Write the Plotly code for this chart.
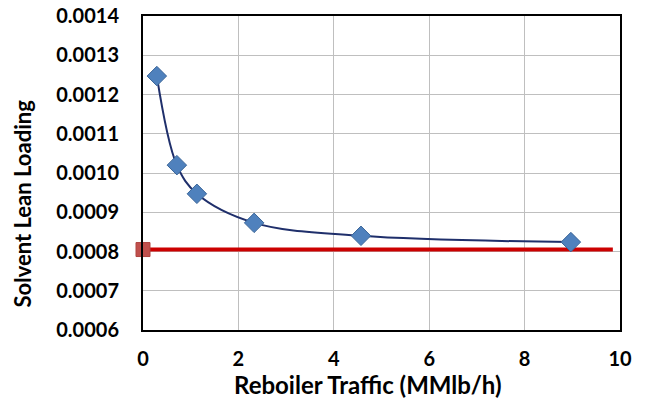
import plotly.graph_objects as go

traffic = [0.29, 0.71, 1.13, 2.33, 4.57, 8.97]
lean_loading = [0.001247, 0.00102, 0.000947, 0.000873, 0.00084, 0.000824]
target_x = [0, 9.85]
target_y = [0.000805, 0.000805]

fig = go.Figure()
fig.add_trace(go.Scatter(x=target_x, y=target_y, mode="lines",
                         line=dict(color="#CC0000", width=4), hoverinfo="skip"))
fig.add_trace(go.Scatter(x=[target_x[0]], y=[target_y[0]], mode="markers", cliponaxis=False,
                         marker=dict(symbol="square", size=14, color="#C0504D",
                                     line=dict(color="#B04540", width=1))))
fig.add_trace(go.Scatter(x=traffic, y=lean_loading, mode="lines+markers", cliponaxis=False,
                         line=dict(color="#1F2F6B", width=2, shape="spline", smoothing=1.0),
                         marker=dict(symbol="diamond", size=15, color="#4F81BD",
                                     line=dict(color="#3A6598", width=1))))

tick_font = dict(family="Lato", size=20, color="#000000", weight="bold")
xtitle_font = dict(family="Lato", size=24, color="#000000", weight="bold")
ytitle_font = dict(family="Lato", size=22, color="#000000", weight="bold")
fig.update_layout(
    width=647, height=405,
    margin=dict(l=143, r=27, t=16, b=75),
    paper_bgcolor="white", plot_bgcolor="white",
    showlegend=False,
    xaxis=dict(range=[0, 10], dtick=2, showgrid=True, gridcolor="#BFBFBF", gridwidth=1,
               zeroline=False, showline=True, linecolor="black", linewidth=2, mirror=True,
               ticks="", tickfont=tick_font, ticklabelstandoff=10, automargin=False),
    yaxis=dict(range=[0.0006, 0.0014], dtick=0.0001, tickformat=".4f", showgrid=True,
               gridcolor="#BFBFBF", gridwidth=1, zeroline=False, showline=True,
               linecolor="black", linewidth=2, mirror=True, ticks="", tickfont=tick_font,
               ticklabelstandoff=18, automargin=False),
    annotations=[
        dict(text="Reboiler Traffic (MMlb/h)", xref="paper", yref="paper",
             x=0.472, y=-0.175, xanchor="center", yanchor="middle",
             showarrow=False, font=xtitle_font),
        dict(text="Solvent Lean Loading", xref="paper", yref="paper",
             x=-0.253, y=0.404, xanchor="center", yanchor="middle", textangle=-90,
             showarrow=False, font=ytitle_font),
    ],
)
fig.write_html("out.html", config={"displayModeBar": False},
               post_script="document.body.style.margin='0';")
